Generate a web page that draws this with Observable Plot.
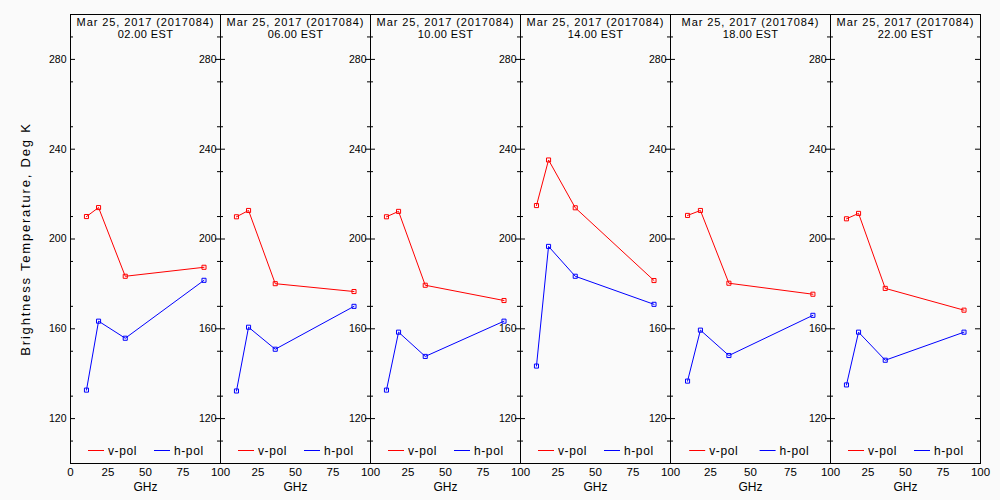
<!DOCTYPE html>
<html><head><meta charset="utf-8">
<script src="https://cdn.jsdelivr.net/npm/d3@7"></script>
<script src="https://cdn.jsdelivr.net/npm/@observablehq/plot@0.6"></script>
<style>
html,body{margin:0;padding:0;background:#fafafa;}
#chart{position:relative;width:1000px;height:500px;font-family:"Liberation Sans",Arial,sans-serif;overflow:hidden;}
#chart svg{position:absolute;top:0;}
</style></head><body><div id="chart"></div>
<script>
const freqs = [10.65, 18.7, 36.5, 89.0];
const dateLabel = "Mar 25, 2017 (2017084)";
const hourLabels = ["02.00 EST","06.00 EST","10.00 EST","14.00 EST","18.00 EST","22.00 EST"];
const vpol = [
  [210.0, 214.0, 183.4, 187.4],
  [209.9, 212.7, 180.1, 176.6],
  [209.9, 212.3, 179.4, 172.6],
  [214.9, 235.2, 213.9, 181.5],
  [210.5, 212.7, 180.3, 175.4],
  [209.0, 211.4, 178.0, 168.3]
];
const hpol = [
  [132.7, 163.4, 155.8, 181.6],
  [132.3, 160.7, 150.9, 170.0],
  [132.7, 158.5, 147.7, 163.4],
  [143.4, 196.7, 183.4, 170.9],
  [136.7, 159.4, 148.1, 166.0],
  [135.0, 158.5, 146.0, 158.5]
];
const yTicks = [120, 160, 200, 240, 280];
const yMinorTicks = [110, 130, 150, 170, 190, 210, 230, 250, 270, 290];
const xTicks = [0, 25, 50, 75, 100];
const seriesNames = ["v-pol", "h-pol"];
const seriesColors = ["#ff0000", "#0000ff"];
const yTitle = "Brightness Temperature, Deg K";
const xTitle = "GHz";

// panel layout (pixel edges)
const panelEdges = [70, 220, 370, 520, 670, 830, 980];
const font = '"Liberation Sans", Arial, sans-serif';
const chart = document.getElementById("chart");

hourLabels.forEach((hour, i) => {
  const x0 = panelEdges[i], w = panelEdges[i + 1] - x0;
  const ml = i === 0 ? 70 : 30, mr = 15;
  const rows = [];
  seriesNames.forEach((s, k) => {
    const vals = k === 0 ? vpol[i] : hpol[i];
    freqs.forEach((f, j) => rows.push({s, f, v: vals[j]}));
  });
  const marks = [
    Plot.tickY(yTicks, {y: d => d, insetRight: w - 5, stroke: "black"}),
    Plot.tickY(yTicks, {y: d => d, insetLeft: w - 5, stroke: "black"}),
    Plot.tickY(yMinorTicks, {y: d => d, insetRight: w - 3, stroke: "black"}),
    Plot.tickY(yMinorTicks, {y: d => d, insetLeft: w - 3, stroke: "black"}),
    Plot.axisY(yTicks, {anchor: "left", tickSize: 0, tickPadding: 4, label: null, fontSize: 10.5}),
    Plot.axisX(i === 0 ? xTicks : xTicks.slice(1), {anchor: "bottom", tickSize: 0, tickPadding: 4, label: null, fontSize: 11.5}),
    Plot.text([dateLabel], {frameAnchor: "top", textAnchor: "middle", lineAnchor: "bottom", dy: 11.8, fontSize: 11}),
    Plot.text([hour], {frameAnchor: "top", textAnchor: "middle", lineAnchor: "bottom", dy: 23.3, fontSize: 11}),
    Plot.text([xTitle], {frameAnchor: "bottom", textAnchor: "middle", lineAnchor: "bottom", dy: 27, fontSize: 12}),
    Plot.line(rows, {x: "f", y: "v", z: "s", stroke: "s", strokeWidth: 1}),
    Plot.dot(rows, {x: "f", y: "v", stroke: "s", symbol: "square", r: 2.3, strokeWidth: 1, fill: "none"}),
    Plot.frame({stroke: "black"})
  ];
  if (i === 0) marks.push(Plot.text([yTitle], {frameAnchor: "left", textAnchor: "middle", dx: -45, rotate: -90, fontSize: 13}));
  const svg = Plot.plot({
    width: ml + w + mr, height: 500,
    marginLeft: ml, marginRight: mr, marginTop: 14, marginBottom: 37,
    style: {background: "transparent", overflow: "visible", fontFamily: font, color: "black"},
    x: {domain: [0, 100], axis: null},
    y: {domain: [100, 300], axis: null},
    color: {domain: seriesNames, range: seriesColors},
    marks
  });
  svg.style.left = (x0 - ml) + "px";
  svg.style.maxWidth = "none";
  const sel = d3.select(svg);
  sel.selectAll("text").filter(function() { return this.textContent === dateLabel; }).style("letter-spacing", "0.9px");
  sel.selectAll("text").filter(function() { return this.textContent === hour; }).style("letter-spacing", "0.4px");
  sel.selectAll("text").filter(function() { return this.textContent === yTitle; }).style("letter-spacing", "1.8px");
  // legend
  const lg = sel.append("g").attr("font-size", 12).attr("font-family", font).attr("text-anchor", "start");
  seriesNames.forEach((s, k) => {
    const lx = ml + w * (k === 0 ? 0.12 : 0.56);
    lg.append("line").attr("x1", lx).attr("x2", lx + 16).attr("y1", 450.5).attr("y2", 450.5)
      .attr("stroke", seriesColors[k]).attr("stroke-width", 1);
    lg.append("text").attr("x", lx + 20).attr("y", 454.5).attr("fill", "black").attr("text-anchor", "start")
      .style("letter-spacing", "0.6px").text(s);
  });
  chart.appendChild(svg);
});
</script>
</body></html>
